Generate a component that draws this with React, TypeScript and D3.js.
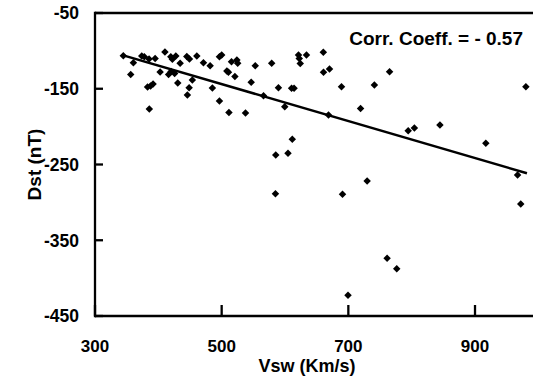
import React from "react";
import * as d3 from "d3";

// Solar wind speed (km/s) vs Dst (nT)
const vsw: number[] = [
  344.7, 356.4, 360.6, 373.8, 377.9, 385.4, 394.9, 383.0, 387.7, 391.7,
  385.8, 402.8, 410.4, 416.2, 420.2, 425.7, 419.7, 422.2, 427.6, 430.7,
  434.4, 445.0, 449.1, 445.9, 448.6, 453.7, 460.8, 471.2, 481.8, 485.3,
  496.5, 500.0, 496.5, 508.2, 510.7, 511.5, 515.5, 524.0, 525.3, 520.9,
  537.6, 546.6, 553.0, 566.1, 579.0, 589.6, 585.4, 584.9, 599.6, 604.7,
  610.4, 614.3, 611.5, 621.3, 622.5, 624.1, 633.9, 660.5, 660.8, 670.3,
  668.7, 689.2, 690.8, 699.5, 719.3, 729.7, 741.1, 761.2, 765.1, 776.4,
  794.5, 804.3, 844.6, 917.1, 967.2, 972.2, 980.3,
];
const dst: number[] = [
  -106.4, -131.2, -115.6, -106.8, -107.7, -110.7, -110.1, -147.7, -146.4, -143.7,
  -176.7, -127.9, -101.5, -131.2, -127.2, -129.9, -107.7, -111.1, -106.8, -142.4,
  -116.4, -107.4, -110.7, -158.2, -148.6, -138.4, -106.8, -115.6, -119.6, -149.0,
  -107.7, -105.4, -166.2, -126.6, -128.3, -181.3, -114.3, -112.0, -116.4, -133.8,
  -182.0, -141.5, -119.6, -159.3, -116.4, -148.6, -237.4, -288.7, -173.7, -235.2,
  -149.3, -149.3, -216.6, -105.4, -110.1, -116.7, -105.4, -101.9, -128.3, -123.9,
  -184.6, -147.3, -289.3, -422.7, -176.1, -271.8, -145.0, -373.8, -127.6, -387.5,
  -205.5, -201.8, -197.8, -222.0, -263.9, -302.1, -147.4,
];

// Fitted trend line end points (data units)
const trendVsw: number[] = [344.7, 982];
const trendDst: number[] = [-106, -261.5];

const xTicks: number[] = [300, 500, 700, 900];
const yTicks: number[] = [-50, -150, -250, -350, -450];

const xTitle = "Vsw (Km/s)";
const yTitle = "Dst (nT)";
const corrLabel = "Corr. Coeff. = - 0.57";

export default function App() {
  const W = 533;
  const H = 379;
  const left = 95;
  const top = 13;
  const bottom = 316;
  const x = d3.scaleLinear().domain([300, 1000]).range([left, left + 700 * (126.67 / 200)]);
  const y = d3.scaleLinear().domain([-450, -50]).range([bottom, top]);

  const font = "'Liberation Sans', Arial, Helvetica, sans-serif";
  const diamond = d3.symbol().type(d3.symbolSquare).size(28)() as string;
  const line = d3
    .line<number>()
    .x((_, i) => x(trendVsw[i]))
    .y((d) => y(d));

  return (
    <div style={{ position: "absolute", left: 0, top: 0 }}>
      <svg width={W} height={H} style={{ display: "block", background: "#fff" }}>
        <rect x={0} y={0} width={W} height={H} fill="#fff" />
        {/* frame */}
        <line x1={left} x2={W} y1={top} y2={top} stroke="#000" strokeWidth={2.3} />
        <line x1={left} x2={W} y1={bottom} y2={bottom} stroke="#000" strokeWidth={2.3} />
        <line x1={left} x2={left} y1={top - 1.15} y2={bottom + 1.15} stroke="#000" strokeWidth={2.3} />
        {/* y ticks */}
        {yTicks.map((t) => (
          <g key={"y" + t}>
            <line x1={left} x2={left + 8} y1={y(t)} y2={y(t)} stroke="#000" strokeWidth={2.3} />
            <text
              x={79}
              y={y(t)}
              dy="0.36em"
              textAnchor="end"
              fontFamily={font}
              fontWeight="bold"
              fontSize={17.5}
            >
              {t}
            </text>
          </g>
        ))}
        {/* x ticks */}
        {xTicks.map((t) => (
          <g key={"x" + t}>
            <line x1={x(t)} x2={x(t)} y1={bottom} y2={bottom - 11} stroke="#000" strokeWidth={2.3} />
            <text
              x={x(t)}
              y={352}
              textAnchor="middle"
              fontFamily={font}
              fontWeight="bold"
              fontSize={17}
            >
              {t}
            </text>
          </g>
        ))}
        {/* axis titles */}
        <text x={307} y={372} textAnchor="middle" fontFamily={font} fontWeight="bold" fontSize={18}>
          {xTitle}
        </text>
        <text
          transform={`translate(41,${(top + bottom) / 2}) rotate(-90)`}
          textAnchor="middle"
          fontFamily={font}
          fontWeight="bold"
          fontSize={19}
        >
          {yTitle}
        </text>
        <text x={523} y={45} textAnchor="end" fontFamily={font} fontWeight="bold" fontSize={19}>
          {corrLabel}
        </text>
        {/* trend line */}
        <path d={line(trendDst) || ""} fill="none" stroke="#000" strokeWidth={2.5} />
        {/* points */}
        {vsw.map((v, i) => (
          <path
            key={i}
            d={diamond}
            transform={`translate(${x(v)},${y(dst[i])}) rotate(45)`}
            fill="#000"
          />
        ))}
      </svg>
    </div>
  );
}
